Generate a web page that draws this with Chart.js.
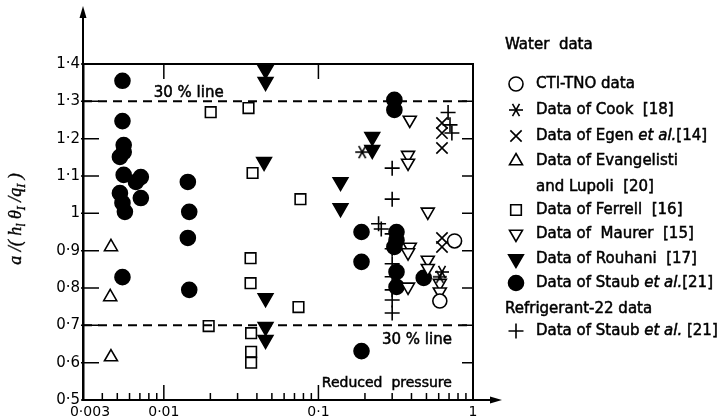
<!DOCTYPE html>
<html>
<head>
<meta charset="utf-8">
<script src="https://cdn.jsdelivr.net/npm/chart.js@4.4.0/dist/chart.umd.min.js"></script>
<style>html,body{margin:0;padding:0;background:#fff}</style>
</head>
<body>
<canvas id="c" width="723" height="420"></canvas>
<script>
// axis ticks
const xTicks = [0.003, 0.01, 0.1, 1];
const xMinor = [0.004, 0.005, 0.006, 0.007, 0.008, 0.009, 0.02, 0.03, 0.04, 0.05, 0.06, 0.07, 0.08, 0.09,
                0.2, 0.3, 0.4, 0.5, 0.6, 0.7, 0.8, 0.9];
const xMajor = [0.01, 0.1];
const yTicks = [0.5, 0.6, 0.7, 0.8, 0.9, 1.0, 1.1, 1.2, 1.3, 1.4];
const bandLines = [1.3, 0.7];

// water data
const ctiX = [0.76, 0.61];
const ctiY = [0.926, 0.765];
const cookX = [0.192, 0.63, 0.61];
const cookY = [1.164, 0.843, 0.83];
const egenX = [0.63, 0.63, 0.63, 0.63, 0.63];
const egenY = [1.242, 1.215, 1.175, 0.934, 0.91];
const evanX = [0.00455, 0.0045, 0.00455];
const evanY = [0.91, 0.776, 0.615];
const ferX = [0.0201, 0.0353, 0.0195, 0.0375, 0.0765, 0.0364, 0.0364, 0.0743, 0.0367, 0.0367, 0.0367];
const ferY = [1.271, 1.282, 0.698, 1.108, 1.038, 0.88, 0.813, 0.749, 0.679, 0.629, 0.60];
const maurX = [0.39, 0.38, 0.38, 0.51, 0.39, 0.38, 0.38, 0.51, 0.51, 0.61, 0.61];
const maurY = [1.25, 1.156, 1.135, 1.004, 0.91, 0.895, 0.803, 0.875, 0.853, 0.813, 0.79];
const rouX = [0.0455, 0.0455, 0.0445, 0.139, 0.139, 0.0455, 0.0455, 0.0455, 0.223, 0.223];
const rouY = [1.384, 1.352, 1.138, 1.084, 1.014, 0.773, 0.696, 0.661, 1.205, 1.17];
const stX = [0.0054, 0.0054, 0.0055, 0.0055, 0.0052, 0.0055, 0.0071, 0.0066, 0.0052, 0.0071, 0.0054, 0.0056, 0.0054,
             0.0143, 0.0146, 0.0143, 0.0146,
             0.31, 0.31, 0.19, 0.32, 0.32, 0.31, 0.19, 0.32, 0.32, 0.48, 0.19];
const stY = [1.355, 1.247, 1.183, 1.164, 1.151, 1.103, 1.097, 1.084, 1.054, 1.041, 1.028, 1.004, 0.829,
             1.084, 1.004, 0.934, 0.795,
             1.304, 1.277, 0.95, 0.95, 0.928, 0.91, 0.87, 0.843, 0.803, 0.827, 0.631];
// refrigerant-22 data
const r22X = [0.69, 0.71, 0.73, 0.30, 0.30, 0.245, 0.255, 0.30, 0.30, 0.30, 0.30, 0.30, 0.30, 0.30];
const r22Y = [1.27, 1.237, 1.215, 1.121, 1.038, 0.972, 0.958, 0.945, 0.905, 0.865, 0.83, 0.795, 0.768, 0.733];

function pts(xs, ys) { return xs.map((x, i) => ({x: x, y: ys[i]})); }

function makeStar(r) {
    const c = document.createElement('canvas');
    c.width = c.height = 2 * r + 2;
    const g = c.getContext('2d');
    g.strokeStyle = '#000';
    g.lineWidth = 1.6;
    const m = r + 1;
    [0, 60, 120].forEach(a => {
        const t = a * Math.PI / 180;
        g.beginPath();
        g.moveTo(m - r * Math.cos(t), m - r * Math.sin(t));
        g.lineTo(m + r * Math.cos(t), m + r * Math.sin(t));
        g.stroke();
    });
    return c;
}
const star = makeStar(7);

const FONT = '"DejaVu Sans", sans-serif';

const datasets = [
    {label: 'CTI-TNO data', data: pts(ctiX, ctiY), pointStyle: 'circle', pointRadius: 7, backgroundColor: '#fff'},
    {label: 'Data of Cook [18]', data: pts(cookX, cookY), pointStyle: star, pointRadius: 7},
    {label: 'Data of Egen et al. [14]', data: pts(egenX, egenY), pointStyle: 'crossRot', pointRadius: 8},
    {label: 'Data of Evangelisti and Lupoli [20]', data: pts(evanX, evanY), pointStyle: 'triangle', pointRadius: 7.5, backgroundColor: '#fff'},
    {label: 'Data of Ferrell [16]', data: pts(ferX, ferY), pointStyle: 'rect', pointRadius: 7.5, backgroundColor: '#fff'},
    {label: 'Data of Maurer [15]', data: pts(maurX, maurY), pointStyle: 'triangle', pointRotation: 180, pointRadius: 7.5, backgroundColor: '#fff'},
    {label: 'Data of Rouhani [17]', data: pts(rouX, rouY), pointStyle: 'triangle', pointRotation: 180, pointRadius: 8.5, backgroundColor: '#000'},
    {label: 'Data of Staub et al. [21]', data: pts(stX, stY), pointStyle: 'circle', pointRadius: 7.5, backgroundColor: '#000'},
    {label: 'Data of Staub et al. [21] (R-22)', data: pts(r22X, r22Y), pointStyle: 'cross', pointRadius: 7.5}
].map(d => Object.assign({borderColor: '#000', borderWidth: 1.6, backgroundColor: 'rgba(0,0,0,0)', clip: false}, d));

// legend rows: [dataset index or null, text segments, y]
const legendRows = [
    [null, [['Water  data', '']], 45],
    [0, [['CTI-TNO data', '']], 84],
    [1, [['Data of Cook  [18]', '']], 110],
    [2, [['Data of Egen ', ''], ['et al.', 'italic '], ['[14]', '']], 136],
    [3, [['Data of Evangelisti', '']], 161],
    [-1, [['and Lupoli  [20]', '']], 187],
    [4, [['Data of Ferrell  [16]', '']], 210],
    [5, [['Data of  Maurer  [15]', '']], 234],
    [6, [['Data of Rouhani  [17]', '']], 259],
    [7, [['Data of Staub ', ''], ['et al.', 'italic '], ['[21]', '']], 283],
    [null, [['Refrigerant-22 data', '']], 309],
    [8, [['Data of Staub ', ''], ['et al.', 'italic '], [' [21]', '']], 331]
];

function boldText(ctx, s, x, y) {
    ctx.fillText(s, x, y);
    ctx.strokeText(s, x, y);
}

const decor = {
    id: 'decor',
    afterDraw(chart) {
        const ctx = chart.ctx, a = chart.chartArea;
        const xs = chart.scales.x, ys = chart.scales.y;
        ctx.save();
        ctx.strokeStyle = '#000';
        ctx.fillStyle = '#000';
        ctx.lineWidth = 2;
        // frame + arrows
        ctx.beginPath();
        ctx.moveTo(a.left, a.top); ctx.lineTo(a.right, a.top); ctx.lineTo(a.right, a.bottom);
        ctx.moveTo(a.left, a.top); ctx.lineTo(a.left, 12);
        ctx.moveTo(a.right, a.bottom); ctx.lineTo(496, a.bottom);
        ctx.stroke();
        ctx.beginPath();
        ctx.moveTo(a.left, 6); ctx.lineTo(a.left - 3.5, 18); ctx.lineTo(a.left + 3.5, 18); ctx.closePath(); ctx.fill();
        ctx.beginPath();
        ctx.moveTo(502, a.bottom); ctx.lineTo(490, a.bottom - 3.5); ctx.lineTo(490, a.bottom + 3.5); ctx.closePath(); ctx.fill();
        // ticks
        ctx.lineWidth = 1.5;
        ctx.beginPath();
        yTicks.forEach(v => {
            const p = ys.getPixelForValue(v);
            ctx.moveTo(a.left - 2, p); ctx.lineTo(a.left + 16, p);
            ctx.moveTo(a.right, p); ctx.lineTo(a.right - 11, p);
        });
        xMinor.forEach(v => {
            const p = xs.getPixelForValue(v);
            ctx.moveTo(p, a.bottom); ctx.lineTo(p, a.bottom - 7);
        });
        xMajor.forEach(v => {
            const p = xs.getPixelForValue(v);
            ctx.moveTo(p, a.bottom); ctx.lineTo(p, a.bottom - 15);
            ctx.moveTo(p, a.top); ctx.lineTo(p, a.top + 15);
        });
        ctx.stroke();
        // 30 % lines
        ctx.lineWidth = 2;
        ctx.setLineDash([9, 6]);
        ctx.beginPath();
        bandLines.forEach(v => {
            const p = ys.getPixelForValue(v);
            ctx.moveTo(a.left, p); ctx.lineTo(a.right, p);
        });
        ctx.stroke();
        ctx.setLineDash([]);
        // annotations
        ctx.font = '15px ' + FONT;
        ctx.lineWidth = 0.5;
        ctx.textBaseline = 'alphabetic';
        ctx.textAlign = 'left';
        boldText(ctx, '30 % line', xs.getPixelForValue(0.0086), ys.getPixelForValue(1.3) - 4);
        ctx.textAlign = 'right';
        boldText(ctx, '30 % line', xs.getPixelForValue(0.73), ys.getPixelForValue(0.7) + 19);
        ctx.font = '14px ' + FONT;
        boldText(ctx, 'Reduced  pressure', xs.getPixelForValue(0.73), ys.getPixelForValue(0.5) - 13);
        // y title
        ctx.save();
        ctx.translate(15, 219);
        ctx.rotate(-Math.PI / 2);
        const segs = [['a', 0], [' /', 0], ['(', 0], [' h', 0], ['l', 1], [' θ', 0], ['I', 1], [' /', 0], ['q', 0], ['I', 1], [' )', 0]];
        const big = 'italic 18px "Liberation Serif", serif', small = 'italic 12px "Liberation Serif", serif';
        let w = 0;
        segs.forEach(s => { ctx.font = s[1] ? small : big; w += ctx.measureText(s[0]).width; });
        let x = -w / 2;
        ctx.textAlign = 'left';
        ctx.lineWidth = 0.4;
        segs.forEach(s => {
            ctx.font = s[1] ? small : big;
            boldText(ctx, s[0], x, s[1] ? 10 : 6);
            x += ctx.measureText(s[0]).width;
        });
        ctx.restore();
        // legend
        ctx.textAlign = 'left';
        ctx.textBaseline = 'middle';
        legendRows.forEach(r => {
            const di = r[0];
            let tx = di === null ? 505 : 536;
            if (di !== null && di >= 0) {
                const d = chart.data.datasets[di];
                ctx.fillStyle = d.backgroundColor;
                ctx.strokeStyle = '#000';
                ctx.lineWidth = 1.6;
                Chart.helpers.drawPoint(ctx, {pointStyle: d.pointStyle, rotation: d.pointRotation || 0,
                    radius: d.pointRadius, borderWidth: 1.6}, 516, r[2]);
            }
            ctx.fillStyle = '#000';
            ctx.strokeStyle = '#000';
            ctx.lineWidth = 0.5;
            r[1].forEach(s => {
                ctx.font = s[1] + '15px ' + FONT;
                boldText(ctx, s[0], tx, r[2]);
                tx += ctx.measureText(s[0]).width;
            });
        });
        ctx.restore();
    }
};

new Chart(document.getElementById('c'), {
    type: 'scatter',
    data: {datasets: datasets},
    options: {
        responsive: false,
        animation: false,
        devicePixelRatio: 1,
        layout: {padding: {top: 64, right: 250, left: 0, bottom: 0}},
        plugins: {legend: {display: false}, tooltip: {enabled: false}},
        scales: {
            x: {
                type: 'logarithmic', min: 0.003, max: 1,
                grid: {display: false, drawTicks: false, tickLength: 0},
                border: {display: true, color: '#000', width: 2},
                afterBuildTicks: s => { s.ticks = xTicks.map(v => ({value: v})); },
                afterFit: s => { s.height = 20; },
                ticks: {color: '#000', font: {family: FONT, size: 14}, padding: 4, maxRotation: 0, autoSkip: false,
                    callback: v => (v === 0.003 ? '\u2002\u2002' : '') + String(v).replace('.', '·')}
            },
            y: {
                min: 0.5, max: 1.4,
                grid: {display: false, drawTicks: false, tickLength: 0},
                border: {display: true, color: '#000', width: 2.5},
                afterBuildTicks: s => { s.ticks = yTicks.map(v => ({value: v})); },
                afterFit: s => { s.width = 83; },
                ticks: {color: '#000', font: {family: FONT, size: 15}, padding: 3,
                    callback: v => v === 1 ? '1' : v.toFixed(1).replace('.', '·')}
            }
        }
    },
    plugins: [decor]
});
</script>
</body>
</html>
